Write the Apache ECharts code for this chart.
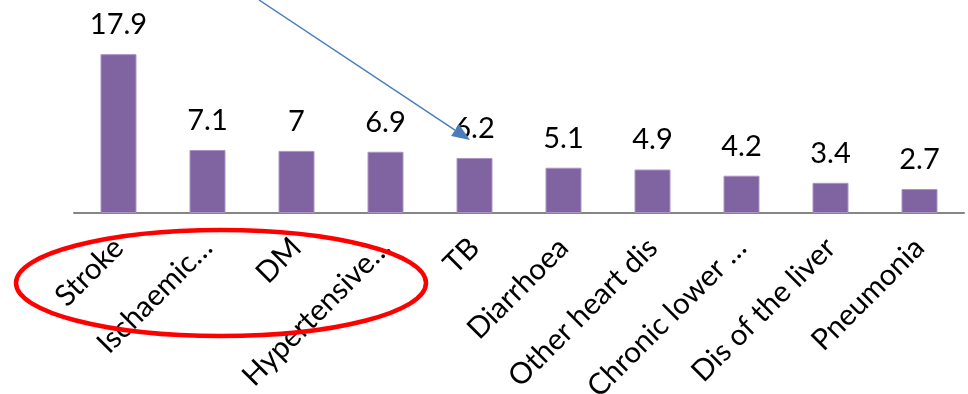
<!DOCTYPE html>
<html>
<head>
<meta charset="utf-8">
<script src="https://cdn.jsdelivr.net/npm/echarts@6/dist/echarts.min.js"></script>
<style>
  html, body { margin: 0; padding: 0; background: #fff; }
  #chart { width: 968px; height: 394px; }
</style>
</head>
<body>
<div id="chart"></div>
<script>
// categories (truncated the same way the original labels are)
const causes = ['Stroke', 'Ischaemic…', 'DM', 'Hypertensive…', 'TB', 'Diarrhoea',
  'Other heart dis', 'Chronic lower …', 'Dis of the liver', 'Pneumonia']
// values shown above the bars
const percent = [17.9, 7.1, 7, 6.9, 6.2, 5.1, 4.9, 4.2, 3.4, 2.7]

const chart = echarts.init(document.getElementById('chart'))

// arrow pointing at TB, plus the red ring round the first four labels
const arrowFrom = [259, 0]
const arrowTo = [470, 140]
const dx = arrowTo[0] - arrowFrom[0], dy = arrowTo[1] - arrowFrom[1]
const len = Math.sqrt(dx * dx + dy * dy)
const ux = dx / len, uy = dy / len
const headLen = 18, headHalf = 7
const baseX = arrowTo[0] - headLen * ux, baseY = arrowTo[1] - headLen * uy

const option = {
  animation: false,
  grid: { left: 74, right: 4, top: 0, bottom: 181, containLabel: false, outerBoundsMode: 'none' },
  xAxis: {
    type: 'category',
    data: causes,
    axisTick: { show: false },
    axisLine: { lineStyle: { color: '#868686', width: 2 } },
    axisLabel: {
      interval: 0,
      rotate: 45,
      margin: 30,
      color: '#000',
      fontFamily: 'Lato',
      fontSize: 29.5
    }
  },
  yAxis: {
    type: 'value',
    min: 0,
    max: 24,
    show: false
  },
  series: [
    {
      type: 'bar',
      data: percent,
      barWidth: 36,
      itemStyle: { color: '#8064A2', borderColor: '#A995C4', borderWidth: 1 },
      label: {
        show: true,
        position: 'top',
        distance: 15,
        color: '#000',
        fontFamily: 'Lato',
        fontSize: 29
      }
    }
  ],
  graphic: [
    {
      type: 'line',
      z: 100,
      shape: { x1: arrowFrom[0], y1: arrowFrom[1], x2: baseX, y2: baseY },
      style: { stroke: '#4A7EBB', lineWidth: 1.5 }
    },
    {
      type: 'polygon',
      z: 100,
      shape: {
        points: [
          arrowTo,
          [baseX - headHalf * uy, baseY + headHalf * ux],
          [baseX + headHalf * uy, baseY - headHalf * ux]
        ]
      },
      style: { fill: '#4A7EBB' }
    },
    {
      type: 'ellipse',
      z: 100,
      shape: { cx: 221, cy: 283, rx: 205, ry: 53 },
      style: { fill: 'none', stroke: '#FF0000', lineWidth: 4.5 }
    }
  ]
}

chart.setOption(option)
</script>
</body>
</html>
